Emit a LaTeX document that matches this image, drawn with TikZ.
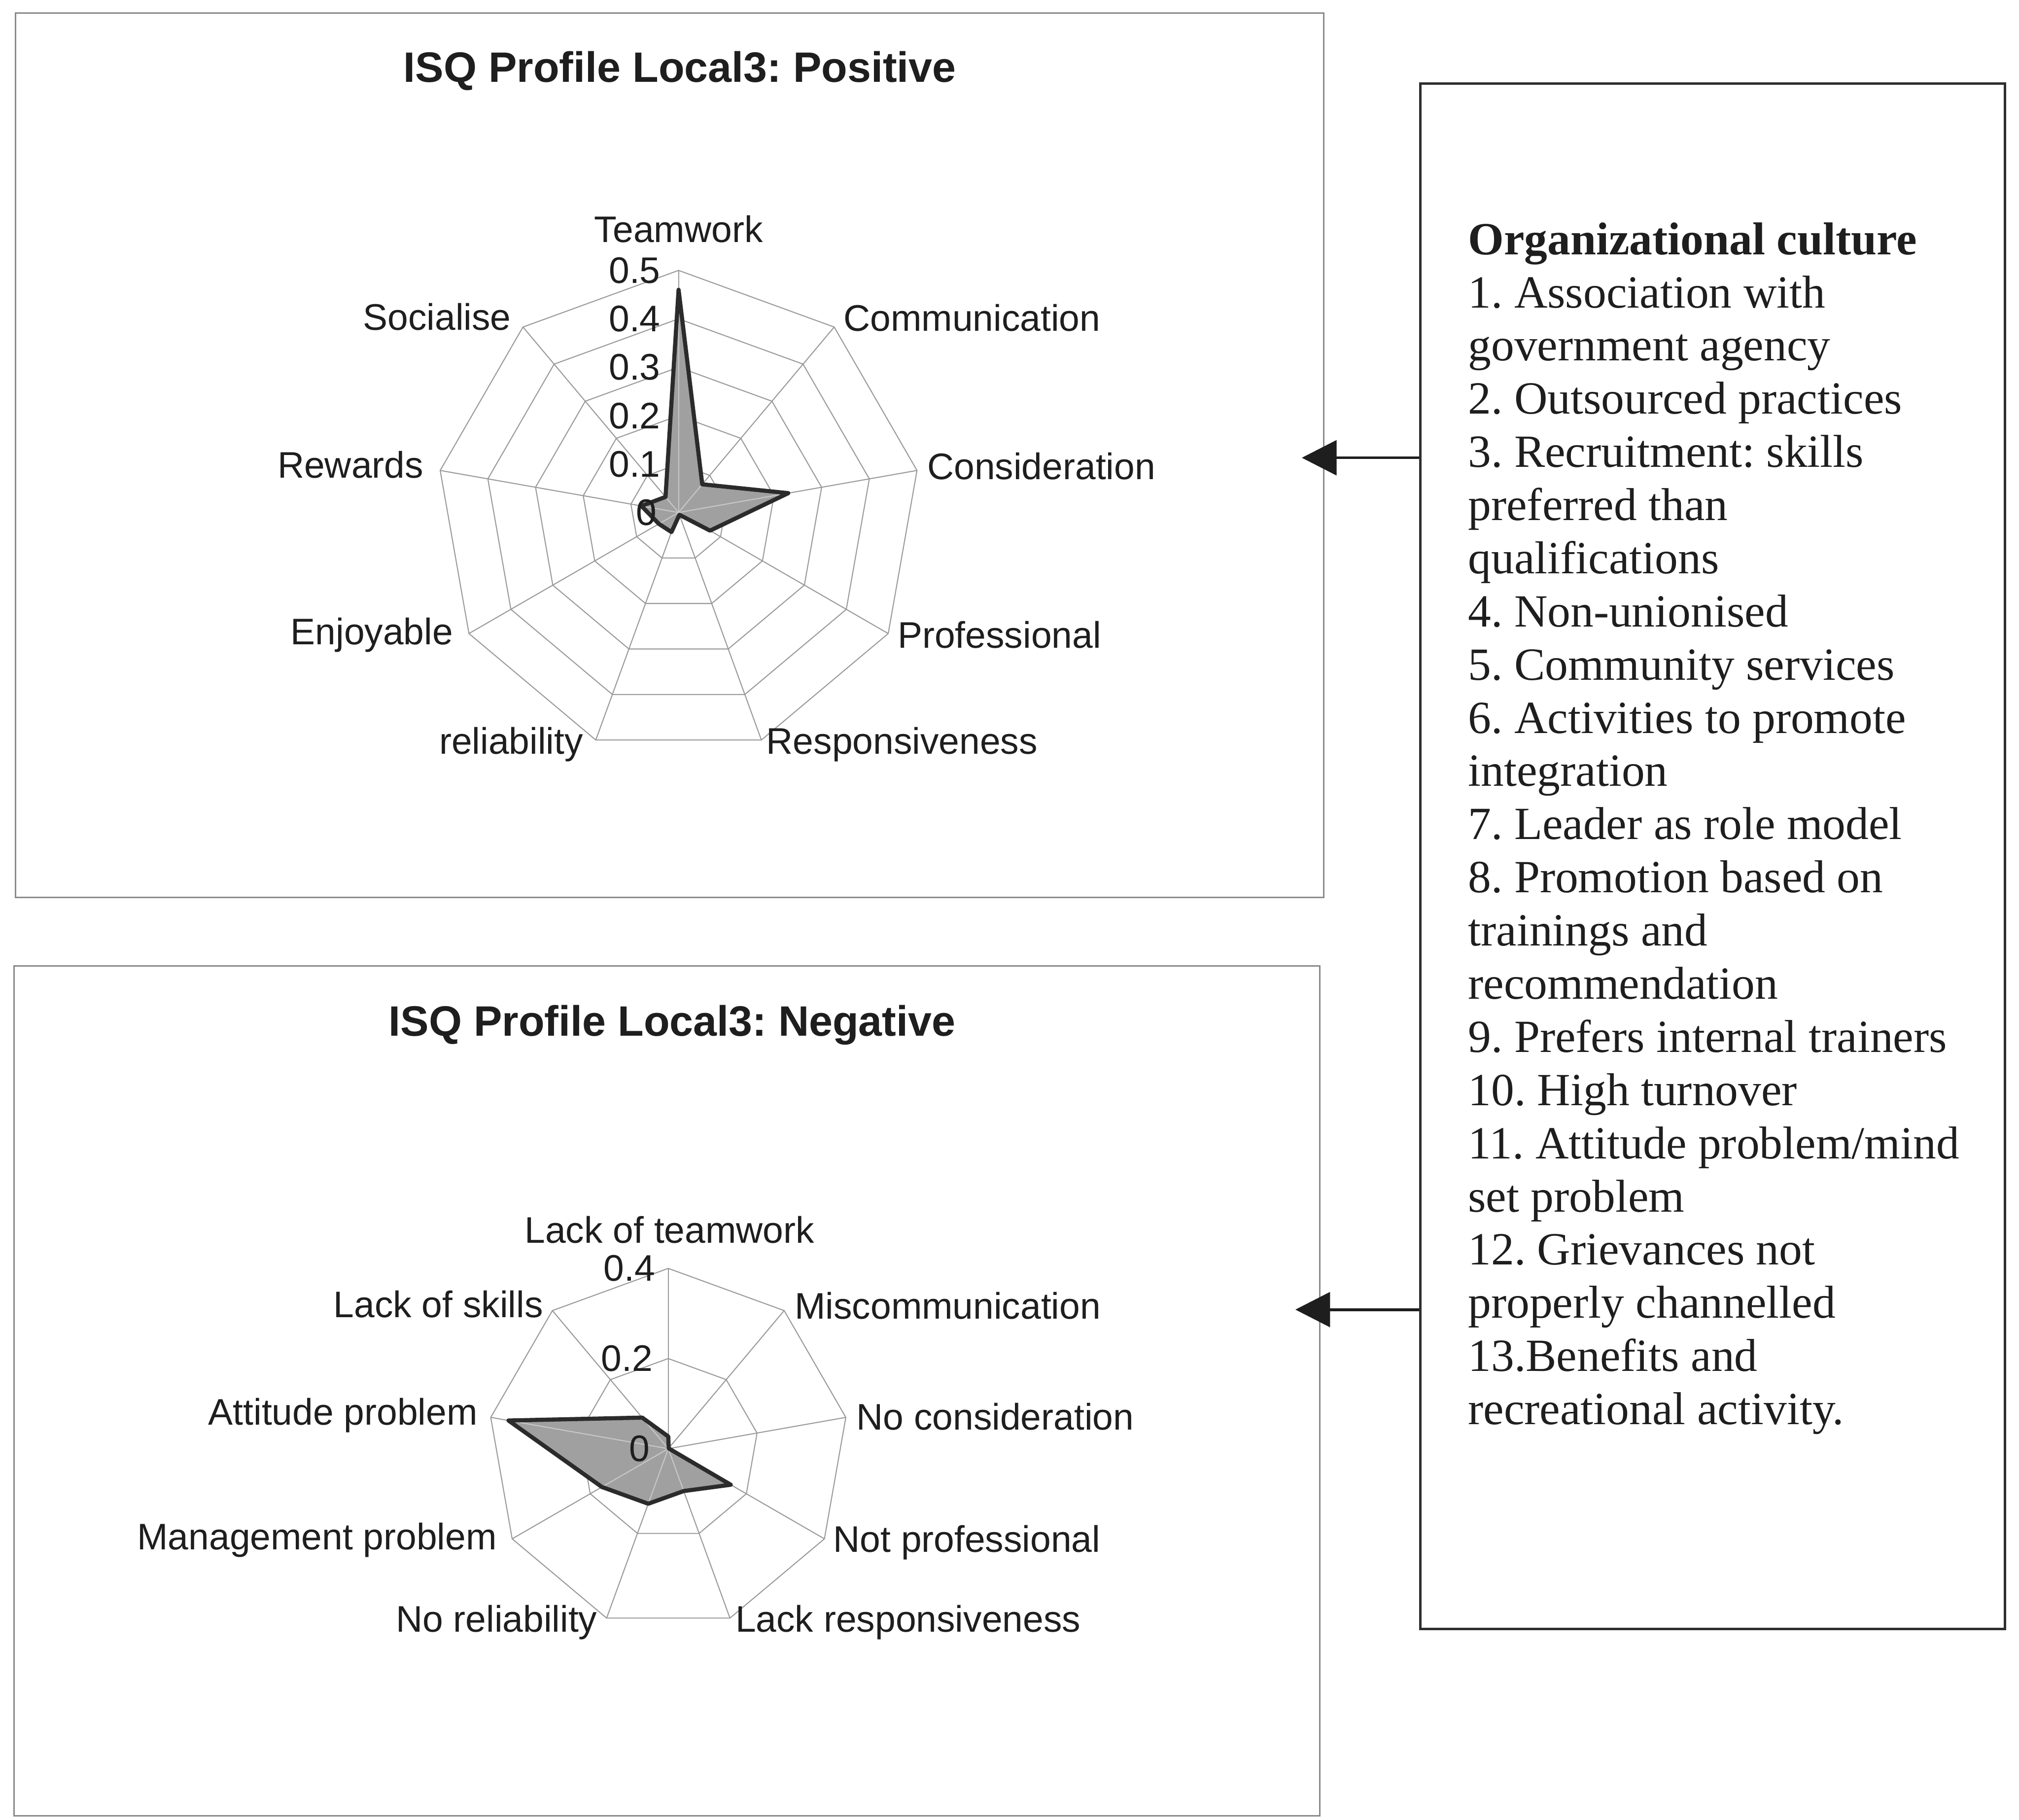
\documentclass[tikz,border=0pt]{standalone}
\usepackage{fontspec}
\setmainfont{Liberation Serif}
\newfontfamily\chartfont{Liberation Sans}
\usetikzlibrary{arrows.meta}
\frenchspacing

\definecolor{ink}{HTML}{1E1E1E}
\definecolor{gridgray}{HTML}{9A9A9A}
\definecolor{framegray}{HTML}{8A8A8A}
\definecolor{boxedge}{HTML}{2E2E2E}
\definecolor{seriesfill}{HTML}{A0A0A0}
\definecolor{seriesedge}{HTML}{2B2B2B}
\definecolor{spokelight}{HTML}{C8C8C8}

\begin{document}
\begin{tikzpicture}[x=1pt,y=1pt,
  frame/.style={draw=framegray, line width=1.2pt, rectangle, inner sep=0pt},
  gridline/.style={draw=gridgray, line width=0.8pt},
  seriesarea/.style={fill=seriesfill},
  seriesoutline/.style={draw=seriesedge, line width=3.2pt, line join=round},
  charttitle/.style={font=\chartfont\bfseries\fontsize{33}{38}\selectfont, text=ink, inner sep=0pt},
  catlabel/.style={font=\chartfont\fontsize{28.7}{33}\selectfont, text=ink, inner sep=0pt},
  ticklabel/.style={font=\chartfont\fontsize{28.7}{33}\selectfont, text=ink, inner sep=0pt, anchor=east},
  listbox/.style={draw=boxedge, line width=1.8pt, rectangle, inner sep=0pt},
  link/.style={draw=ink, line width=2.2pt, -{Triangle[length=27pt,width=27pt]}}
]
\useasboundingbox (0,0) rectangle (1568,1413);
\fill[white] (0,0) rectangle (1568,1413);

% ---------------- Positive profile ----------------
\node[frame, minimum width=1016pt, minimum height=687pt] (posframe) at (520,1059.5) {};
\node[charttitle] (postitle) at (528,1358) {ISQ Profile Local3: Positive};

\begin{scope}[shift={(527,1015)}]
  \coordinate (poscenter) at (0,0);
  % rings 0.1 ... 0.5 and spokes
  \foreach \k in {1,...,5}{
    \draw[gridline] (90:{37.6*\k}) \foreach \i in {1,...,8}{ -- ({90-40*\i}:{37.6*\k}) } -- cycle;
  }
  \foreach \i in {0,...,8} \draw[gridline] (poscenter) -- ({90-40*\i}:188);
  % data points (scale: 0.5 -> 188)
  \foreach \v [count=\i from 0] in {0.46,0.076,0.23,0.075,0.005,0.043,0.047,0.078,0.042}
    \coordinate (pos\i) at ({90-40*\i}:{376*\v});
  \path[seriesarea] (pos0) \foreach \i in {1,...,8}{ -- (pos\i) } -- cycle;
  \begin{scope}
    \clip (pos0) \foreach \i in {1,...,8}{ -- (pos\i) } -- cycle;
    \foreach \i in {0,...,8} \draw[spokelight, line width=0.8pt] (poscenter) -- ({90-40*\i}:188);
  \end{scope}
  \draw[seriesoutline] (pos0) \foreach \i in {1,...,8}{ -- (pos\i) } -- cycle;
  % value axis
  \foreach \k/\t in {1/0.1,2/0.2,3/0.3,4/0.4,5/0.5}
    \node[ticklabel] (postick\k) at (-14,{37.6*\k}) {\t};
  \node[ticklabel] (postick0) at (-17,0) {0};
\end{scope}

\node[catlabel] (teamwork) at (527,1235) {Teamwork};
\node[catlabel, anchor=west] (communication) at (655,1166) {Communication};
\node[catlabel, anchor=west] (consideration) at (720,1051) {Consideration};
\node[catlabel, anchor=west] (professional) at (697,920) {Professional};
\node[catlabel, anchor=west] (responsiveness) at (595,835) {Responsiveness};
\node[catlabel, anchor=east] (reliability) at (453,835) {reliability};
\node[catlabel, anchor=east] (enjoyable) at (352,920) {Enjoyable};
\node[catlabel, anchor=east] (rewards) at (329,1052) {Rewards};
\node[catlabel, anchor=east] (socialise) at (397,1167) {Socialise};

% ---------------- Negative profile ----------------
\node[frame, minimum width=1014pt, minimum height=660pt] (negframe) at (518,333) {};
\node[charttitle] (negtitle) at (522,617) {ISQ Profile Local3: Negative};

\begin{scope}[shift={(519,288)}]
  \coordinate (negcenter) at (0,0);
  \foreach \k in {1,2}{
    \draw[gridline] (90:{70*\k}) \foreach \i in {1,...,8}{ -- ({90-40*\i}:{70*\k}) } -- cycle;
  }
  \foreach \i in {0,...,8} \draw[gridline] (negcenter) -- ({90-40*\i}:140);
  % data points (scale: 0.4 -> 140)
  \foreach \v [count=\i from 0] in {0.027,0.0015,0.0015,0.16,0.10,0.13,0.17,0.36,0.09}
    \coordinate (neg\i) at ({90-40*\i}:{350*\v});
  \path[seriesarea] (neg0) \foreach \i in {1,...,8}{ -- (neg\i) } -- cycle;
  \begin{scope}
    \clip (neg0) \foreach \i in {1,...,8}{ -- (neg\i) } -- cycle;
    \foreach \i in {0,...,8} \draw[spokelight, line width=0.8pt] (negcenter) -- ({90-40*\i}:140);
  \end{scope}
  \draw[seriesoutline] (neg0) \foreach \i in {1,...,8}{ -- (neg\i) } -- cycle;
  \node[ticklabel] (negtick2) at (-10,140) {0.4};
  \node[ticklabel] (negtick1) at (-12,70) {0.2};
  \node[ticklabel] (negtick0) at (-14,0) {0};
\end{scope}

\node[catlabel] (lackteam) at (520,458) {Lack of teamwork};
\node[catlabel, anchor=west] (miscomm) at (617,399) {Miscommunication};
\node[catlabel, anchor=west] (nocons) at (665,313) {No consideration};
\node[catlabel, anchor=west] (notprof) at (647,215) {Not professional};
\node[catlabel, anchor=west] (lackresp) at (571,153) {Lack responsiveness};
\node[catlabel, anchor=east] (norel) at (464,153) {No reliability};
\node[catlabel, anchor=east] (mgmt) at (386,217) {Management problem};
\node[catlabel, anchor=east] (attitude) at (371,314) {Attitude problem};
\node[catlabel, anchor=east] (lackskills) at (422,400) {Lack of skills};

% ---------------- Organizational culture list ----------------
\node[listbox, minimum width=454pt, minimum height=1200pt] (culture) at (1330,748) {};
\node[anchor=base west, inner sep=0pt, text=ink] (culturetext) at (1140,1215.4) {%
  \parbox[t]{415pt}{\fontsize{35.8}{41.3}\selectfont\raggedright
  \textbf{Organizational culture}\\
  1. Association with\\
  government agency\\
  2. Outsourced practices\\
  3. Recruitment: skills\\
  preferred than\\
  qualifications\\
  4. Non-unionised\\
  5. Community services\\
  6. Activities to promote\\
  integration\\
  7. Leader as role model\\
  8. Promotion based on\\
  trainings and\\
  recommendation\\
  9. Prefers internal trainers\\
  10. High turnover\\
  11. Attitude problem/mind\\
  set problem\\
  12. Grievances not\\
  properly channelled\\
  13.Benefits and\\
  recreational activity.}};

% ---------------- Links ----------------
\coordinate (postip) at (1011,1057.5);
\coordinate (negtip) at (1006,396);
\draw[link] (culture.west |- postip) -- (postip);
\draw[link] (culture.west |- negtip) -- (negtip);
\end{tikzpicture}
\end{document}
